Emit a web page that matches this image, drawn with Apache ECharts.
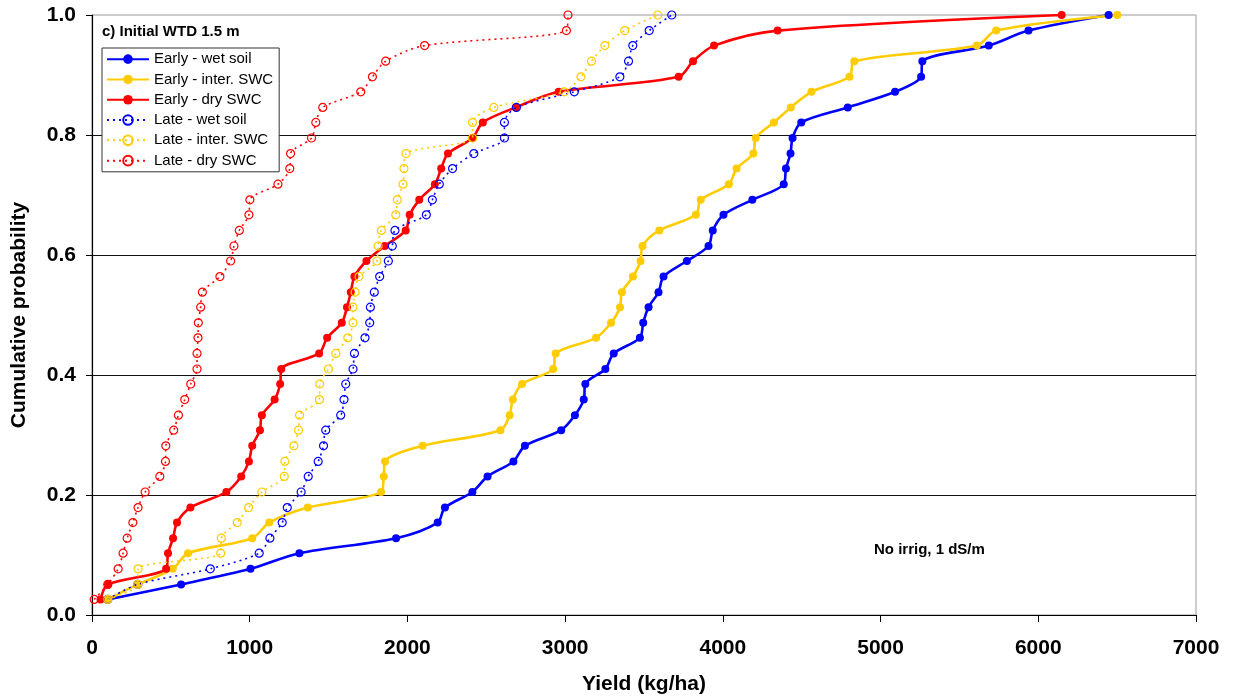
<!DOCTYPE html>
<html>
<head>
<meta charset="utf-8">
<script src="https://cdn.jsdelivr.net/npm/echarts@6/dist/echarts.min.js"></script>
<style>
html,body{margin:0;padding:0;background:#fff;}
#chart{width:1234px;height:700px;}
</style>
</head>
<body>
<div id="chart"></div>
<script>
// Cumulative probability levels (k/39)
var probs = [0.026,0.051,0.077,0.103,0.128,0.154,0.179,0.205,0.231,0.256,
             0.282,0.308,0.333,0.359,0.385,0.410,0.436,0.462,0.487,0.513,
             0.538,0.564,0.590,0.615,0.641,0.667,0.692,0.718,0.744,0.769,
             0.795,0.821,0.846,0.872,0.897,0.923,0.949,0.974,1.000];

var earlyWet = [100,565,1005,1315,1928,2192,2238,2412,2508,2672,
                2745,2975,3062,3118,3128,3255,3308,3474,3495,3529,
                3592,3624,3772,3909,3936,4004,4187,4386,4400,4429,
                4442,4497,4792,5092,5257,5265,5686,5938,6446];
var earlyInter = [100,290,512,609,1016,1124,1368,1833,1850,1858,
                  2096,2590,2648,2668,2727,2924,2940,3196,3291,3348,
                  3360,3430,3478,3491,3597,3829,3860,4038,4087,4193,
                  4208,4324,4431,4562,4803,4834,5610,5733,6501];
var earlyDry = [54,102,470,482,514,539,624,852,946,995,
                1016,1065,1077,1158,1193,1200,1440,1491,1584,1617,
                1641,1664,1740,1856,1989,2014,2075,2174,2214,2257,
                2413,2478,2687,2959,3720,3811,3944,4347,6148];
var lateWet = [100,290,750,1060,1128,1206,1238,1326,1371,1434,
               1468,1482,1577,1598,1609,1655,1664,1731,1761,1765,
               1790,1824,1879,1904,1921,2120,2158,2202,2286,2421,
               2615,2615,2691,3058,3347,3402,3429,3533,3676];
var lateInter = [100,290,292,816,820,921,993,1077,1219,1223,
                 1280,1309,1316,1442,1444,1499,1546,1622,1655,1655,
                 1668,1693,1807,1814,1835,1926,1936,1972,1978,1991,
                 2413,2413,2548,2994,3100,3167,3252,3378,3587];
var lateDry = [14,100,166,197,223,259,292,337,430,466,
               468,518,548,588,626,666,666,672,674,689,
               700,811,879,900,934,995,1001,1179,1254,1259,
               1392,1419,1463,1704,1778,1862,2109,3008,3018];

var seriesNames = ['Early - wet soil','Early - inter. SWC','Early - dry SWC',
                   'Late - wet soil','Late - inter. SWC','Late - dry SWC'];
var xTicks = [0,1000,2000,3000,4000,5000,6000,7000];
var yTicks = [0.0,0.2,0.4,0.6,0.8,1.0];

var BLUE = '#0000FF', YEL = '#FFCC00', RED = '#FF0000';
var FONT = 'Liberation Sans, Arial, sans-serif';

function pairs(xs){ return xs.map(function(x,i){ return [x, probs[i]]; }); }

function early(name, xs, col){
  return {
    name: name, type: 'line', data: pairs(xs),
    smooth: 0.3, symbol: 'circle', symbolSize: 8,
    lineStyle: {color: col, width: 2.6},
    itemStyle: {color: col},
    emphasis: {disabled: true}, z: 2
  };
}
function late(name, xs, col){
  return {
    name: name, type: 'line', data: pairs(xs),
    smooth: 0.3, symbol: 'circle', symbolSize: 8,
    lineStyle: {color: col, width: 1.6, type: [2,4]},
    itemStyle: {color: 'rgba(255,255,255,0)', borderColor: col, borderWidth: 1.2},
    emphasis: {disabled: true}, z: 3
  };
}

var chart = echarts.init(document.getElementById('chart'), null, {renderer: 'canvas'});
chart.setOption({
  animation: false,
  backgroundColor: '#fff',
  textStyle: {fontFamily: FONT},
  grid: {left: 92, right: 38, top: 15, bottom: 83, show: true, borderColor: '#999', borderWidth: 1, backgroundColor: 'rgba(0,0,0,0)'},
  legend: {
    orient: 'vertical', left: 102, top: 48,
    itemWidth: 42, itemHeight: 12, itemGap: 0,
    padding: [1, 6, 1, 4],
    borderColor: '#333', borderWidth: 1, backgroundColor: '#fff',
    textStyle: {fontFamily: FONT, fontSize: 15, color: '#000', lineHeight: 20.3},
    data: seriesNames
  },
  xAxis: {
    type: 'value', min: xTicks[0], max: xTicks[xTicks.length-1], interval: 1000,
    name: 'Yield (kg/ha)', nameLocation: 'middle', nameGap: 59,
    nameTextStyle: {fontFamily: FONT, fontSize: 21, fontWeight: 'bold', color: '#000'},
    axisLine: {show: true, lineStyle: {color: '#000', width: 1.2}},
    axisTick: {show: true, inside: false, length: 7, lineStyle: {color: '#000'}},
    axisLabel: {fontFamily: FONT, fontSize: 21, fontWeight: 'bold', color: '#000', margin: 23,
                formatter: function(v){ return String(v); }},
    splitLine: {show: false}
  },
  yAxis: {
    type: 'value', min: yTicks[0], max: yTicks[yTicks.length-1], interval: 0.2,
    name: 'Cumulative probability', nameLocation: 'middle', nameGap: 62, nameRotate: 90,
    nameTextStyle: {fontFamily: FONT, fontSize: 21, fontWeight: 'bold', color: '#000'},
    axisLine: {show: true, lineStyle: {color: '#000', width: 1.2}},
    axisTick: {show: true, inside: false, length: 6, lineStyle: {color: '#000'}},
    axisLabel: {fontFamily: FONT, fontSize: 21, fontWeight: 'bold', color: '#000', margin: 16,
                formatter: function(v){ return v.toFixed(1); }},
    splitLine: {show: true, showMinLine: false, showMaxLine: false, lineStyle: {color: '#111', width: 1}}
  },
  graphic: [
    {type: 'text', left: 102, top: 24, silent: true,
     style: {text: 'c) Initial WTD 1.5 m', font: 'bold 15px ' + FONT, fill: '#000'}},
    {type: 'text', left: 874, top: 542, silent: true,
     style: {text: 'No irrig, 1 dS/m', font: 'bold 15px ' + FONT, fill: '#000'}}
  ],
  series: [
    early(seriesNames[0], earlyWet, BLUE),
    early(seriesNames[1], earlyInter, YEL),
    early(seriesNames[2], earlyDry, RED),
    late(seriesNames[3], lateWet, BLUE),
    late(seriesNames[4], lateInter, YEL),
    late(seriesNames[5], lateDry, RED)
  ]
});
</script>
</body>
</html>
